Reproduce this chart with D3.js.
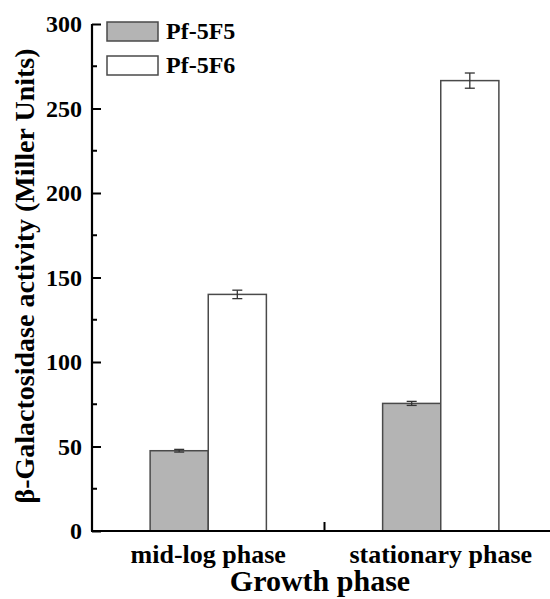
<!DOCTYPE html>
<html>
<head>
<meta charset="utf-8">
<script src="https://cdn.jsdelivr.net/npm/d3@7"></script>
<style>
  body { margin: 0; background: #fff; }
  text { font-family: "Liberation Serif", "Times New Roman", serif; font-weight: bold; }
</style>
</head>
<body>
<div id="chart"></div>
<script>
// data
const phases = ["mid-log phase", "stationary phase"];
const strains = ["Pf-5F5", "Pf-5F6"];
const pf5f5 = [47.5, 75.5];
const pf5f6 = [140, 266.5];
const err5f5 = [0.8, 1.2];
const err5f6 = [2.5, 4.5];
const yTicks = [0, 50, 100, 150, 200, 250, 300];

const width = 550, height = 599;
const margin = { top: 24, right: -7, bottom: 68, left: 92 };

const svg = d3.select("#chart")
    .append("svg")
    .attr("width", width)
    .attr("height", height);

const x = d3.scaleBand()
    .domain(phases)
    .range([margin.left, width - margin.right]);

const xSub = d3.scaleBand()
    .domain(strains)
    .range([-x.bandwidth() * 0.25, x.bandwidth() * 0.25]);

const y = d3.scaleLinear()
    .domain([0, 300])
    .range([height - margin.bottom, margin.top]);

const colors = { "Pf-5F5": "#b4b4b4", "Pf-5F6": "#ffffff" };

// flatten into rows for bars
const rows = [];
phases.forEach((p, i) => {
    rows.push({ phase: p, strain: strains[0], value: pf5f5[i], err: err5f5[i] });
    rows.push({ phase: p, strain: strains[1], value: pf5f6[i], err: err5f6[i] });
});

const cx = (d) => x(d.phase) + x.bandwidth() / 2 + xSub(d.strain);

// bars
svg.selectAll("rect.bar")
    .data(rows)
    .enter()
    .append("rect")
    .attr("class", "bar")
    .attr("x", (d) => cx(d))
    .attr("y", (d) => y(d.value))
    .attr("width", xSub.bandwidth())
    .attr("height", (d) => y(0) - y(d.value))
    .attr("fill", (d) => colors[d.strain])
    .attr("stroke", "#4a4a4a")
    .attr("stroke-width", 1.5);

// error bars
const eb = svg.selectAll("g.err")
    .data(rows)
    .enter()
    .append("g")
    .attr("class", "err")
    .attr("stroke", "#333")
    .attr("stroke-width", 1.3);

eb.append("line")
    .attr("x1", (d) => cx(d) + xSub.bandwidth() / 2)
    .attr("x2", (d) => cx(d) + xSub.bandwidth() / 2)
    .attr("y1", (d) => y(d.value + d.err))
    .attr("y2", (d) => y(d.value - d.err));

[1, -1].forEach((s) => {
    eb.append("line")
        .attr("x1", (d) => cx(d) + xSub.bandwidth() / 2 - 5)
        .attr("x2", (d) => cx(d) + xSub.bandwidth() / 2 + 5)
        .attr("y1", (d) => y(d.value + s * d.err))
        .attr("y2", (d) => y(d.value + s * d.err));
});

// y axis, ticks point inward
const yAxis = svg.append("g")
    .attr("transform", `translate(${margin.left},0)`)
    .call(d3.axisRight(y).tickValues(yTicks).tickSize(9).tickFormat(""));
yAxis.select(".domain").attr("d", `M0,${y(300)}V${y(0)}`).attr("stroke-width", 2.2);
yAxis.selectAll(".tick line").attr("stroke-width", 2);

// minor ticks
const minor = d3.range(25, 300, 50);
svg.append("g")
    .selectAll("line")
    .data(minor)
    .enter()
    .append("line")
    .attr("x1", margin.left)
    .attr("x2", margin.left + 5)
    .attr("y1", (d) => y(d))
    .attr("y2", (d) => y(d))
    .attr("stroke", "#000")
    .attr("stroke-width", 2);

svg.append("g")
    .selectAll("text")
    .data(yTicks)
    .enter()
    .append("text")
    .attr("x", margin.left - 10)
    .attr("y", (d) => y(d) + 8)
    .attr("text-anchor", "end")
    .attr("font-size", "24px")
    .text((d) => d);

// x axis
const xAxis = svg.append("g")
    .attr("transform", `translate(0,${y(0)})`);
xAxis.append("line")
    .attr("x1", margin.left - 1)
    .attr("x2", width)
    .attr("stroke", "#000")
    .attr("stroke-width", 2.2);
xAxis.append("line")
    .attr("x1", x(phases[1]))
    .attr("x2", x(phases[1]))
    .attr("y1", 0)
    .attr("y2", -9)
    .attr("stroke", "#000")
    .attr("stroke-width", 2);

svg.append("g")
    .selectAll("text")
    .data(phases)
    .enter()
    .append("text")
    .attr("x", (d) => x(d) + x.bandwidth() / 2)
    .attr("y", y(0) + 32)
    .attr("text-anchor", "middle")
    .attr("font-size", "26px")
    .text((d) => d);

// axis titles
svg.append("text")
    .attr("x", 320)
    .attr("y", 591)
    .attr("text-anchor", "middle")
    .attr("font-size", "30px")
    .text("Growth phase");

svg.append("text")
    .attr("transform", `translate(34,276) rotate(-90)`)
    .attr("text-anchor", "middle")
    .attr("font-size", "28px")
    .text("β-Galactosidase activity (Miller Units)");

// legend
const legend = svg.append("g");
strains.forEach((s, i) => {
    legend.append("rect")
        .attr("x", 107)
        .attr("y", 22 + i * 34)
        .attr("width", 51)
        .attr("height", 19)
        .attr("fill", colors[s])
        .attr("stroke", "#4a4a4a")
        .attr("stroke-width", 1.5);
    legend.append("text")
        .attr("x", 166)
        .attr("y", 39 + i * 34)
        .attr("font-size", "24px")
        .text(s);
});
</script>
</body>
</html>
